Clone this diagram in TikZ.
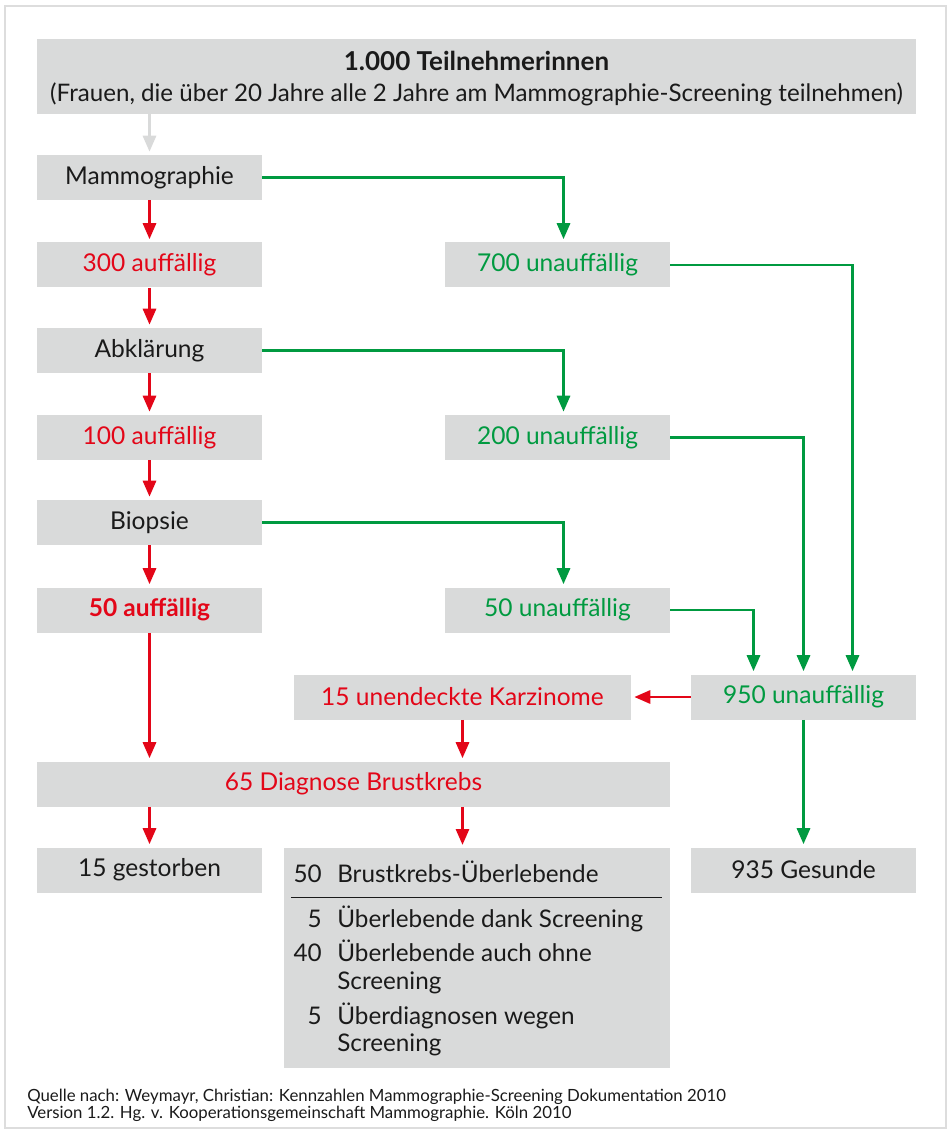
\documentclass[tikz,border=0pt]{standalone}
\usepackage{fontspec}
\setmainfont{Lato}
\usepackage{xcolor}
\usetikzlibrary{positioning,arrows.meta}
\definecolor{boxgrey}{HTML}{D9DADA}
\definecolor{framegrey}{HTML}{DDDDDD}
\definecolor{tred}{HTML}{E30618}
\definecolor{tgreen}{HTML}{009A40}
\definecolor{ink}{HTML}{1A1A1A}
\newlength{\px}
\setlength{\px}{0.75pt}
\tikzset{
  box/.style = {fill=boxgrey,inner sep=0pt,minimum width=225\px,minimum height=45\px,font=\fontsize{18.4}{21}\selectfont,text=ink},
  redtxt/.style = {text=tred},
  greentxt/.style = {text=tgreen},
  arr/.style = {line width=2.2pt,-{Triangle[width=9.75pt,length=12pt]},shorten >=2.25pt},
  redarr/.style = {arr,draw=tred},
  greenarr/.style = {arr,draw=tgreen},
  greyarr/.style = {arr,draw=boxgrey},
  rowtxt/.style = {inner sep=0pt,font=\fontsize{18.2}{21}\selectfont,text=ink}
}

\begin{document}
\begin{tikzpicture}[x=\px,y=-\px]
\useasboundingbox (0,0) rectangle (950,1130);
\draw[framegrey,line width=2\px] (5,6) rectangle (946,1128);

\node[box,minimum width=879\px,minimum height=75\px,align=center,text depth=0pt,font=\fontsize{18.1}{23.25}\selectfont] (top) at (476.5,76.5)
  {{\fontsize{19.5}{23.25}\selectfont\bfseries 1.000 Teilnehmerinnen}\\
   (Frauen, die über 20 Jahre alle 2 Jahre am Mammographie-Screening teilnehmen)};

% linke Spalte
\node[box] (mammo) at (149.5,177.5) {Mammographie};
\node[box,redtxt] (a300) at (149.5,265) {300 auffällig};
\node[box] (abkl) at (149.5,350.5) {Abklärung};
\node[box,redtxt] (a100) at (149.5,437.5) {100 auffällig};
\node[box] (biop) at (149.5,522.5) {Biopsie};
\node[box,redtxt,font=\fontsize{18.4}{21}\selectfont\bfseries] (a50) at (149.5,610) {50 auffällig};

% rechte Spalte
\node[box,greentxt] (u700) at (557.5,265) {700 unauffällig};
\node[box,greentxt] (u200) at (557.5,437.5) {200 unauffällig};
\node[box,greentxt] (u50) at (557.5,610) {50 unauffällig};

\node[box,redtxt,minimum width=337\px] (karz) at (462.5,697) {15 unendeckte Karzinome};
\node[box,greentxt] (u950) at (803.5,697) {950 unauffällig};
\node[box,redtxt,minimum width=633\px] (diag) at (353.5,784) {65 Diagnose Brustkrebs};

% unten
\node[box] (gest) at (149.5,870) {15 gestorben};
\node[box] (gesund) at (803.5,870) {935 Gesunde};
\node[box,minimum width=386\px,minimum height=220\px,anchor=north west] (surv) at (284,848) {};

\node[rowtxt,anchor=base east] (n50) at (322,882) {50};
\node[rowtxt,anchor=base west] (t50) at (337,882) {Brustkrebs-Überlebende};
\draw[ink,line width=0.9\px] (291,897) -- (662,897);
\node[rowtxt,anchor=base east] (n5a) at (322,927) {5};
\node[rowtxt,anchor=base west] (t5a) at (337,927) {Überlebende dank Screening};
\node[rowtxt,anchor=base east] (n40) at (322,961) {40};
\node[rowtxt,anchor=base west] (t40) at (337,961) {Überlebende auch ohne};
\node[rowtxt,anchor=base west] (t40b) at (337,989) {Screening};
\node[rowtxt,anchor=base east] (n5b) at (322,1024) {5};
\node[rowtxt,anchor=base west] (t5b) at (337,1024) {Überdiagnosen wegen};
\node[rowtxt,anchor=base west] (t5bb) at (337,1051) {Screening};

\node[anchor=north west,align=left,inner sep=0pt,text=ink,font=\fontsize{12.6}{12.75}\selectfont] (quelle) at (27,1089)
  {Quelle nach: Weymayr, Christian: Kennzahlen Mammographie-Screening Dokumentation 2010\\
   Version 1.2. Hg. v. Kooperationsgemeinschaft Mammographie. Köln 2010};

% Pfeile
\draw[greyarr] (top.south -| mammo.north) -- (mammo.north);
\draw[redarr] (mammo) -- (a300);
\draw[redarr] (a300) -- (abkl);
\draw[redarr] (abkl) -- (a100);
\draw[redarr] (a100) -- (biop);
\draw[redarr] (biop) -- (a50);
\draw[redarr] (a50.south) -- (a50.south |- diag.north);

\draw[greenarr] (mammo.east) -| ([xshift=6\px]u700.north);
\draw[greenarr] (abkl.east) -| ([xshift=6\px]u200.north);
\draw[greenarr] (biop.east) -| ([xshift=6\px]u50.north);

\draw[greenarr] (u700.east) -| ([xshift=49\px]u950.north);
\draw[greenarr] (u200.east) -| (u950.north);
\draw[greenarr] (u50.east) -| ([xshift=-50\px]u950.north);

\draw[redarr] (u950.west) -- (karz.east);
\draw[redarr] (karz.south) -- (karz.south |- diag.north);
\draw[redarr] (diag.south -| gest.north) -- (gest.north);
\draw[redarr] (diag.south -| karz.south) -- (surv.north -| karz.south);
\draw[greenarr] (u950.south) -- (gesund.north);
\end{tikzpicture}
\end{document}
